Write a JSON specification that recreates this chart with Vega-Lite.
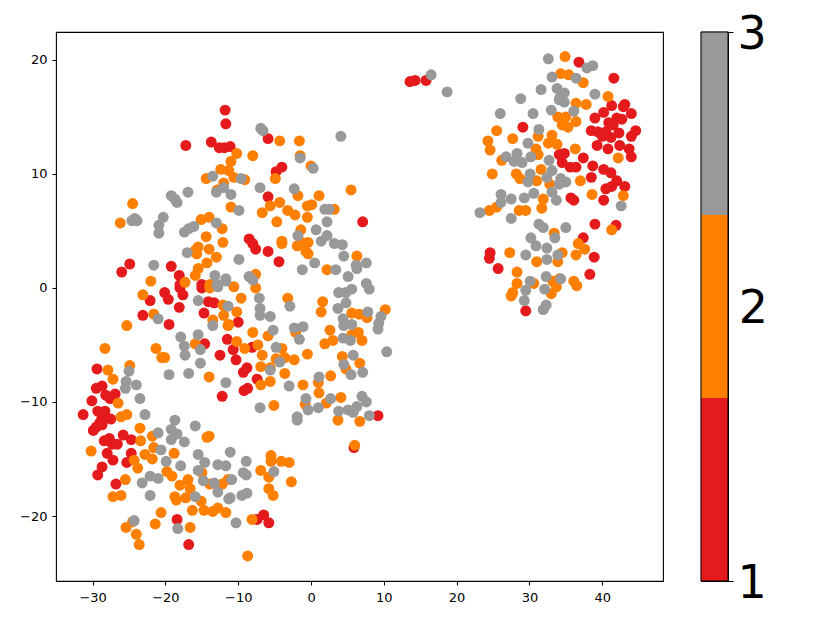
{"$schema":"https://vega.github.io/schema/vega-lite/v6.json","padding":{"left":0,"top":10,"right":0,"bottom":0},"background":"white","config":{"view":{"stroke":"#000","strokeWidth":1.1},"font":"DejaVu Sans","axis":{"grid":false,"domain":false,"tickColor":"#000","labelColor":"#000","title":null}},"datasets":{"pts":[
{"x":-20.1,"y":-0.4,"c":1},{"x":-19.6,"y":-1.0,"c":1},{"x":-22.1,"y":-1.1,"c":1},{"x":-23.1,"y":-2.4,"c":1},{"x":-19.5,"y":-3.2,"c":1},{"x":-18.0,"y":0.0,"c":1},{"x":-17.6,"y":-0.6,"c":1},{"x":-18.1,"y":-1.7,"c":1},{"x":-15.0,"y":0.0,"c":1},{"x":-14.1,"y":-1.2,"c":1},{"x":-13.3,"y":-1.3,"c":1},{"x":-14.7,"y":-2.2,"c":1},{"x":-14.6,"y":-4.9,"c":1},{"x":-11.5,"y":-4.5,"c":1},{"x":-12.5,"y":-5.9,"c":1},{"x":-12.2,"y":-9.5,"c":1},{"x":-29.4,"y":-7.1,"c":1},{"x":-28.7,"y":-8.6,"c":1},{"x":-29.5,"y":-8.8,"c":1},{"x":-26.9,"y":-9.3,"c":1},{"x":-28.2,"y":-9.4,"c":1},{"x":-27.6,"y":-9.7,"c":1},{"x":-30.1,"y":-9.9,"c":1},{"x":-31.3,"y":-11.1,"c":1},{"x":-29.3,"y":-10.8,"c":1},{"x":-28.3,"y":-10.8,"c":1},{"x":-27.5,"y":-11.5,"c":1},{"x":-28.7,"y":-11.4,"c":1},{"x":-29.0,"y":-11.8,"c":1},{"x":-29.9,"y":-12.5,"c":1},{"x":-29.5,"y":-12.2,"c":1},{"x":-28.7,"y":-12.0,"c":1},{"x":-25.8,"y":-12.9,"c":1},{"x":-24.7,"y":-13.3,"c":1},{"x":-28.4,"y":-13.4,"c":1},{"x":-27.7,"y":-13.2,"c":1},{"x":-27.3,"y":-13.7,"c":1},{"x":-26.6,"y":-13.7,"c":1},{"x":-28.0,"y":-14.5,"c":1},{"x":-27.2,"y":-15.1,"c":1},{"x":-24.7,"y":-14.5,"c":1},{"x":-25.3,"y":-15.3,"c":1},{"x":-28.7,"y":-15.7,"c":1},{"x":-29.3,"y":-16.4,"c":1},{"x":-26.8,"y":-17.2,"c":1},{"x":-18.4,"y":-20.3,"c":1},{"x":-16.8,"y":-22.5,"c":1},{"x":-6.5,"y":-19.9,"c":1},{"x":-7.4,"y":-20.3,"c":1},{"x":-5.8,"y":-20.6,"c":1},{"x":5.9,"y":-14.0,"c":1},{"x":-11.8,"y":15.6,"c":1},{"x":-11.7,"y":14.4,"c":1},{"x":-13.7,"y":12.8,"c":1},{"x":-17.2,"y":12.5,"c":1},{"x":-12.6,"y":12.3,"c":1},{"x":-11.9,"y":12.3,"c":1},{"x":-11.1,"y":12.4,"c":1},{"x":-5.9,"y":13.1,"c":1},{"x":-8.5,"y":4.3,"c":1},{"x":-8.0,"y":3.9,"c":1},{"x":-7.6,"y":3.4,"c":1},{"x":-5.9,"y":3.2,"c":1},{"x":-24.9,"y":2.1,"c":1},{"x":-26.0,"y":1.4,"c":1},{"x":-19.2,"y":1.9,"c":1},{"x":-18.1,"y":1.1,"c":1},{"x":-5.9,"y":8.0,"c":1},{"x":-18.0,"y":0.3,"c":1},{"x":-15.0,"y":0.3,"c":1},{"x":-10.0,"y":-3.0,"c":1},{"x":-8.1,"y":-5.2,"c":1},{"x":-10.7,"y":-5.4,"c":1},{"x":-10.3,"y":-6.3,"c":1},{"x":-8.8,"y":-7.0,"c":1},{"x":-9.3,"y":-7.4,"c":1},{"x":-7.4,"y":-8.0,"c":1},{"x":-8.7,"y":-8.8,"c":1},{"x":-9.2,"y":-9.0,"c":1},{"x":9.2,"y":-11.2,"c":1},{"x":-4.0,"y":10.6,"c":1},{"x":-4.8,"y":10.2,"c":1},{"x":7.1,"y":5.8,"c":1},{"x":-4.4,"y":2.3,"c":1},{"x":13.6,"y":18.1,"c":1},{"x":14.3,"y":18.2,"c":1},{"x":15.8,"y":18.2,"c":1},{"x":36.8,"y":19.8,"c":1},{"x":41.6,"y":18.4,"c":1},{"x":29.1,"y":14.1,"c":1},{"x":41.3,"y":16.0,"c":1},{"x":43.1,"y":16.1,"c":1},{"x":42.9,"y":15.9,"c":1},{"x":40.2,"y":15.4,"c":1},{"x":44.0,"y":15.3,"c":1},{"x":39.0,"y":14.9,"c":1},{"x":42.0,"y":14.9,"c":1},{"x":42.7,"y":14.8,"c":1},{"x":40.9,"y":14.5,"c":1},{"x":41.5,"y":14.3,"c":1},{"x":44.6,"y":13.8,"c":1},{"x":44.0,"y":13.3,"c":1},{"x":38.5,"y":13.8,"c":1},{"x":39.4,"y":13.7,"c":1},{"x":40.5,"y":13.7,"c":1},{"x":42.3,"y":13.6,"c":1},{"x":41.2,"y":13.2,"c":1},{"x":40.0,"y":13.3,"c":1},{"x":39.3,"y":12.5,"c":1},{"x":42.4,"y":12.5,"c":1},{"x":40.8,"y":12.2,"c":1},{"x":43.7,"y":12.2,"c":1},{"x":44.0,"y":11.5,"c":1},{"x":34.8,"y":11.8,"c":1},{"x":34.1,"y":11.7,"c":1},{"x":34.5,"y":11.0,"c":1},{"x":37.4,"y":11.4,"c":1},{"x":35.6,"y":10.6,"c":1},{"x":36.4,"y":10.6,"c":1},{"x":38.7,"y":10.7,"c":1},{"x":40.2,"y":10.4,"c":1},{"x":41.2,"y":10.1,"c":1},{"x":38.5,"y":9.7,"c":1},{"x":42.0,"y":9.4,"c":1},{"x":35.7,"y":7.9,"c":1},{"x":36.1,"y":7.7,"c":1},{"x":40.2,"y":7.7,"c":1},{"x":40.5,"y":8.7,"c":1},{"x":41.3,"y":8.9,"c":1},{"x":43.1,"y":8.9,"c":1},{"x":39.0,"y":5.6,"c":1},{"x":41.9,"y":5.5,"c":1},{"x":37.4,"y":4.4,"c":1},{"x":24.6,"y":3.1,"c":1},{"x":24.5,"y":2.6,"c":1},{"x":38.9,"y":2.7,"c":1},{"x":25.7,"y":1.7,"c":1},{"x":38.3,"y":1.2,"c":1},{"x":29.5,"y":-2.0,"c":1},
{"x":-22.0,"y":0.6,"c":2},{"x":-17.3,"y":0.5,"c":2},{"x":-23.1,"y":-0.6,"c":2},{"x":-21.6,"y":-2.3,"c":2},{"x":-25.3,"y":-3.3,"c":2},{"x":-13.9,"y":0.0,"c":2},{"x":-12.1,"y":-1.5,"c":2},{"x":-12.0,"y":-2.4,"c":2},{"x":-13.5,"y":-2.8,"c":2},{"x":-11.4,"y":-3.3,"c":2},{"x":-15.9,"y":-4.9,"c":2},{"x":-21.3,"y":-5.3,"c":2},{"x":-20.5,"y":-6.1,"c":2},{"x":-20.1,"y":-6.1,"c":2},{"x":-28.3,"y":-5.3,"c":2},{"x":-27.9,"y":-7.2,"c":2},{"x":-24.9,"y":-6.8,"c":2},{"x":-27.2,"y":-8.0,"c":2},{"x":-14.0,"y":-7.8,"c":2},{"x":-26.5,"y":-10.1,"c":2},{"x":-26.1,"y":-11.3,"c":2},{"x":-25.3,"y":-11.1,"c":2},{"x":-23.5,"y":-12.3,"c":2},{"x":-21.8,"y":-13.0,"c":2},{"x":-23.4,"y":-13.4,"c":2},{"x":-30.2,"y":-14.3,"c":2},{"x":-21.6,"y":-14.0,"c":2},{"x":-22.8,"y":-14.6,"c":2},{"x":-21.8,"y":-15.0,"c":2},{"x":-18.8,"y":-14.5,"c":2},{"x":-24.3,"y":-15.1,"c":2},{"x":-23.8,"y":-15.8,"c":2},{"x":-25.5,"y":-16.8,"c":2},{"x":-26.1,"y":-18.2,"c":2},{"x":-27.2,"y":-18.3,"c":2},{"x":-14.3,"y":-13.1,"c":2},{"x":-14.0,"y":-13.0,"c":2},{"x":-19.8,"y":-16.1,"c":2},{"x":-19.1,"y":-16.5,"c":2},{"x":-18.0,"y":-17.3,"c":2},{"x":-16.9,"y":-16.8,"c":2},{"x":-16.6,"y":-17.6,"c":2},{"x":-15.0,"y":-16.2,"c":2},{"x":-13.9,"y":-17.2,"c":2},{"x":-12.2,"y":-17.2,"c":2},{"x":-11.4,"y":-16.8,"c":2},{"x":-18.7,"y":-18.3,"c":2},{"x":-18.5,"y":-18.6,"c":2},{"x":-17.2,"y":-18.4,"c":2},{"x":-15.1,"y":-18.7,"c":2},{"x":-16.3,"y":-19.5,"c":2},{"x":-14.7,"y":-19.5,"c":2},{"x":-13.5,"y":-19.6,"c":2},{"x":-12.8,"y":-19.3,"c":2},{"x":-11.7,"y":-19.7,"c":2},{"x":-20.6,"y":-19.7,"c":2},{"x":-24.5,"y":-20.5,"c":2},{"x":-25.4,"y":-21.0,"c":2},{"x":-21.4,"y":-20.7,"c":2},{"x":-16.6,"y":-21.0,"c":2},{"x":-24.0,"y":-21.6,"c":2},{"x":-23.6,"y":-22.5,"c":2},{"x":-5.5,"y":-14.7,"c":2},{"x":-5.5,"y":-15.2,"c":2},{"x":-4.1,"y":-15.2,"c":2},{"x":-3.0,"y":-15.3,"c":2},{"x":-6.9,"y":-16.0,"c":2},{"x":-5.8,"y":-16.6,"c":2},{"x":-2.7,"y":-17.0,"c":2},{"x":-5.8,"y":-17.6,"c":2},{"x":-5.2,"y":-18.2,"c":2},{"x":-8.1,"y":-20.3,"c":2},{"x":-8.7,"y":-23.5,"c":2},{"x":6.0,"y":-13.8,"c":2},{"x":3.7,"y":-11.6,"c":2},{"x":6.7,"y":-11.7,"c":2},{"x":-24.5,"y":7.4,"c":2},{"x":-26.2,"y":5.7,"c":2},{"x":-11.0,"y":7.1,"c":2},{"x":-6.7,"y":6.6,"c":2},{"x":-15.1,"y":6.0,"c":2},{"x":-14.0,"y":6.2,"c":2},{"x":-12.2,"y":5.2,"c":2},{"x":-14.4,"y":4.5,"c":2},{"x":-12.1,"y":4.0,"c":2},{"x":-15.5,"y":3.6,"c":2},{"x":-15.9,"y":3.3,"c":2},{"x":-15.7,"y":3.0,"c":2},{"x":-14.0,"y":3.4,"c":2},{"x":-13.0,"y":2.7,"c":2},{"x":-14.3,"y":2.2,"c":2},{"x":-15.5,"y":1.7,"c":2},{"x":-15.9,"y":1.1,"c":2},{"x":-7.6,"y":1.2,"c":2},{"x":-13.9,"y":0.3,"c":2},{"x":-10.2,"y":11.8,"c":2},{"x":-8.0,"y":11.6,"c":2},{"x":-11.0,"y":11.1,"c":2},{"x":-12.4,"y":10.4,"c":2},{"x":-11.3,"y":10.3,"c":2},{"x":-14.4,"y":9.6,"c":2},{"x":-10.6,"y":9.7,"c":2},{"x":-9.1,"y":9.5,"c":2},{"x":-12.0,"y":9.2,"c":2},{"x":-12.9,"y":8.6,"c":2},{"x":-10.6,"y":0.1,"c":2},{"x":-7.6,"y":0.0,"c":2},{"x":-9.6,"y":-0.9,"c":2},{"x":-3.2,"y":-0.9,"c":2},{"x":1.6,"y":-1.2,"c":2},{"x":1.4,"y":-2.1,"c":2},{"x":-10.2,"y":-2.1,"c":2},{"x":-11.3,"y":-3.2,"c":2},{"x":-8.0,"y":-3.9,"c":2},{"x":-5.9,"y":-4.2,"c":2},{"x":-2.1,"y":-3.9,"c":2},{"x":-10.2,"y":-4.7,"c":2},{"x":-7.3,"y":-5.0,"c":2},{"x":-9.1,"y":-5.3,"c":2},{"x":-6.7,"y":-5.9,"c":2},{"x":-4.0,"y":-5.3,"c":2},{"x":-4.8,"y":-6.2,"c":2},{"x":-3.6,"y":-6.1,"c":2},{"x":-2.3,"y":-6.3,"c":2},{"x":-0.5,"y":-5.8,"c":2},{"x":-6.9,"y":-6.9,"c":2},{"x":-5.6,"y":-7.0,"c":2},{"x":-3.6,"y":-7.5,"c":2},{"x":-5.6,"y":-8.2,"c":2},{"x":-6.9,"y":-8.5,"c":2},{"x":-1.1,"y":-8.5,"c":2},{"x":1.0,"y":-8.3,"c":2},{"x":1.1,"y":-9.2,"c":2},{"x":2.7,"y":-7.7,"c":2},{"x":4.1,"y":-9.6,"c":2},{"x":2.1,"y":-10.1,"c":2},{"x":-0.8,"y":-10.2,"c":2},{"x":-5.1,"y":-10.3,"c":2},{"x":5.6,"y":-2.2,"c":2},{"x":6.6,"y":-2.3,"c":2},{"x":7.7,"y":-2.6,"c":2},{"x":10.2,"y":-1.9,"c":2},{"x":2.6,"y":-3.7,"c":2},{"x":1.9,"y":-4.9,"c":2},{"x":3.0,"y":-4.6,"c":2},{"x":5.6,"y":-4.1,"c":2},{"x":6.5,"y":-3.9,"c":2},{"x":7.0,"y":-4.6,"c":2},{"x":4.3,"y":-6.0,"c":2},{"x":6.7,"y":-6.6,"c":2},{"x":4.8,"y":-7.1,"c":2},{"x":-4.3,"y":12.9,"c":2},{"x":-1.6,"y":12.9,"c":2},{"x":-1.5,"y":11.6,"c":2},{"x":0.0,"y":10.7,"c":2},{"x":-4.9,"y":9.6,"c":2},{"x":5.5,"y":8.6,"c":2},{"x":-1.8,"y":8.1,"c":2},{"x":1.1,"y":8.1,"c":2},{"x":-4.3,"y":7.5,"c":2},{"x":-5.6,"y":7.2,"c":2},{"x":-3.2,"y":6.8,"c":2},{"x":-2.2,"y":6.4,"c":2},{"x":-0.5,"y":7.2,"c":2},{"x":0.1,"y":7.3,"c":2},{"x":-0.5,"y":6.2,"c":2},{"x":3.2,"y":6.9,"c":2},{"x":-4.7,"y":5.8,"c":2},{"x":-1.4,"y":5.1,"c":2},{"x":-4.0,"y":4.1,"c":2},{"x":-4.0,"y":3.9,"c":2},{"x":-1.9,"y":3.7,"c":2},{"x":-1.2,"y":4.0,"c":2},{"x":-0.4,"y":4.0,"c":2},{"x":-0.7,"y":3.2,"c":2},{"x":-0.4,"y":3.0,"c":2},{"x":6.3,"y":2.8,"c":2},{"x":2.2,"y":1.6,"c":2},{"x":34.9,"y":20.3,"c":2},{"x":34.3,"y":18.8,"c":2},{"x":35.4,"y":18.7,"c":2},{"x":37.4,"y":18.0,"c":2},{"x":40.8,"y":16.8,"c":2},{"x":36.4,"y":16.2,"c":2},{"x":37.8,"y":16.1,"c":2},{"x":33.9,"y":15.0,"c":2},{"x":35.0,"y":15.0,"c":2},{"x":36.4,"y":14.6,"c":2},{"x":34.5,"y":14.3,"c":2},{"x":35.3,"y":14.1,"c":2},{"x":25.5,"y":13.8,"c":2},{"x":24.3,"y":12.9,"c":2},{"x":24.6,"y":12.1,"c":2},{"x":27.7,"y":13.1,"c":2},{"x":31.2,"y":13.3,"c":2},{"x":33.1,"y":13.4,"c":2},{"x":32.6,"y":12.7,"c":2},{"x":33.8,"y":12.6,"c":2},{"x":30.9,"y":12.2,"c":2},{"x":31.2,"y":11.7,"c":2},{"x":36.3,"y":12.2,"c":2},{"x":26.2,"y":11.2,"c":2},{"x":42.2,"y":11.4,"c":2},{"x":31.6,"y":10.4,"c":2},{"x":24.9,"y":10.0,"c":2},{"x":28.2,"y":10.0,"c":2},{"x":28.7,"y":9.6,"c":2},{"x":37.0,"y":9.4,"c":2},{"x":31.0,"y":9.4,"c":2},{"x":32.8,"y":9.1,"c":2},{"x":38.6,"y":8.2,"c":2},{"x":42.9,"y":8.1,"c":2},{"x":31.9,"y":7.8,"c":2},{"x":31.7,"y":7.0,"c":2},{"x":28.6,"y":6.8,"c":2},{"x":29.5,"y":6.8,"c":2},{"x":24.5,"y":6.8,"c":2},{"x":25.5,"y":7.1,"c":2},{"x":33.4,"y":4.8,"c":2},{"x":41.3,"y":5.1,"c":2},{"x":36.7,"y":3.9,"c":2},{"x":37.6,"y":3.4,"c":2},{"x":36.4,"y":2.9,"c":2},{"x":34.5,"y":3.1,"c":2},{"x":27.3,"y":3.1,"c":2},{"x":31.0,"y":2.3,"c":2},{"x":33.9,"y":2.3,"c":2},{"x":28.3,"y":1.4,"c":2},{"x":28.3,"y":0.4,"c":2},{"x":30.6,"y":0.4,"c":2},{"x":27.7,"y":-0.4,"c":2},{"x":27.5,"y":-0.7,"c":2},{"x":33.2,"y":0.6,"c":2},{"x":34.1,"y":0.8,"c":2},{"x":33.7,"y":0.1,"c":2},{"x":33.0,"y":-0.5,"c":2},{"x":36.1,"y":0.6,"c":2},{"x":36.5,"y":0.2,"c":2},
{"x":-21.0,"y":-2.7,"c":3},{"x":-15.5,"y":-1.1,"c":3},{"x":-12.8,"y":0.1,"c":3},{"x":-11.7,"y":0.6,"c":3},{"x":-13.5,"y":-3.3,"c":3},{"x":-17.9,"y":-4.3,"c":3},{"x":-15.5,"y":-4.1,"c":3},{"x":-17.4,"y":-5.1,"c":3},{"x":-15.2,"y":-5.4,"c":3},{"x":-17.3,"y":-5.9,"c":3},{"x":-15.2,"y":-6.6,"c":3},{"x":-16.8,"y":-7.5,"c":3},{"x":-19.5,"y":-7.6,"c":3},{"x":-25.0,"y":-7.3,"c":3},{"x":-25.4,"y":-8.2,"c":3},{"x":-24.0,"y":-8.5,"c":3},{"x":-25.5,"y":-8.8,"c":3},{"x":-23.5,"y":-9.7,"c":3},{"x":-11.7,"y":-8.3,"c":3},{"x":-22.8,"y":-11.1,"c":3},{"x":-18.7,"y":-11.6,"c":3},{"x":-15.9,"y":-12.1,"c":3},{"x":-19.2,"y":-12.4,"c":3},{"x":-21.0,"y":-12.7,"c":3},{"x":-18.4,"y":-12.8,"c":3},{"x":-19.2,"y":-13.3,"c":3},{"x":-17.4,"y":-13.5,"c":3},{"x":-20.6,"y":-14.2,"c":3},{"x":-19.9,"y":-15.2,"c":3},{"x":-17.9,"y":-15.6,"c":3},{"x":-15.5,"y":-14.6,"c":3},{"x":-14.6,"y":-15.3,"c":3},{"x":-12.8,"y":-15.5,"c":3},{"x":-11.7,"y":-15.6,"c":3},{"x":-11.1,"y":-14.4,"c":3},{"x":-15.5,"y":-16.0,"c":3},{"x":-22.1,"y":-16.5,"c":3},{"x":-21.0,"y":-16.7,"c":3},{"x":-23.2,"y":-17.1,"c":3},{"x":-14.8,"y":-16.9,"c":3},{"x":-13.3,"y":-17.1,"c":3},{"x":-12.8,"y":-17.9,"c":3},{"x":-11.3,"y":-18.5,"c":3},{"x":-22.1,"y":-18.2,"c":3},{"x":-15.9,"y":-18.3,"c":3},{"x":-24.3,"y":-20.4,"c":3},{"x":-18.3,"y":-21.1,"c":3},{"x":-8.9,"y":-15.2,"c":3},{"x":-9.3,"y":-16.2,"c":3},{"x":-8.9,"y":-16.4,"c":3},{"x":-5.1,"y":-16.1,"c":3},{"x":-10.9,"y":-16.8,"c":3},{"x":-8.8,"y":-18.0,"c":3},{"x":-9.5,"y":-18.2,"c":3},{"x":-11.1,"y":-18.4,"c":3},{"x":-10.3,"y":-20.6,"c":3},{"x":-1.9,"y":-11.6,"c":3},{"x":-16.9,"y":8.4,"c":3},{"x":-19.2,"y":8.1,"c":3},{"x":-18.7,"y":7.8,"c":3},{"x":-18.4,"y":7.5,"c":3},{"x":-13.0,"y":8.4,"c":3},{"x":-12.0,"y":8.8,"c":3},{"x":-11.0,"y":8.2,"c":3},{"x":-7.0,"y":8.8,"c":3},{"x":-9.9,"y":6.8,"c":3},{"x":-20.3,"y":6.2,"c":3},{"x":-24.2,"y":6.1,"c":3},{"x":-24.6,"y":5.9,"c":3},{"x":-23.9,"y":5.9,"c":3},{"x":-20.9,"y":5.5,"c":3},{"x":-20.9,"y":4.8,"c":3},{"x":-16.1,"y":5.4,"c":3},{"x":-16.8,"y":5.2,"c":3},{"x":-17.4,"y":4.9,"c":3},{"x":-13.0,"y":5.7,"c":3},{"x":-17.0,"y":3.1,"c":3},{"x":-9.9,"y":2.5,"c":3},{"x":-21.6,"y":2.0,"c":3},{"x":-13.2,"y":1.1,"c":3},{"x":-11.7,"y":0.8,"c":3},{"x":-8.5,"y":1.0,"c":3},{"x":-8.0,"y":0.7,"c":3},{"x":-12.9,"y":0.3,"c":3},{"x":-13.5,"y":9.8,"c":3},{"x":-9.6,"y":9.6,"c":3},{"x":-6.9,"y":14.0,"c":3},{"x":-6.6,"y":13.8,"c":3},{"x":4.1,"y":13.3,"c":3},{"x":-1.5,"y":11.4,"c":3},{"x":0.3,"y":10.5,"c":3},{"x":-2.3,"y":8.7,"c":3},{"x":1.9,"y":6.9,"c":3},{"x":2.5,"y":6.9,"c":3},{"x":2.2,"y":5.8,"c":3},{"x":0.7,"y":5.1,"c":3},{"x":2.2,"y":4.6,"c":3},{"x":1.4,"y":4.1,"c":3},{"x":-1.8,"y":4.6,"c":3},{"x":3.2,"y":3.9,"c":3},{"x":4.3,"y":3.8,"c":3},{"x":4.5,"y":2.8,"c":3},{"x":0.5,"y":2.2,"c":3},{"x":-1.2,"y":1.6,"c":3},{"x":3.4,"y":1.6,"c":3},{"x":6.2,"y":2.0,"c":3},{"x":6.3,"y":1.7,"c":3},{"x":7.6,"y":2.2,"c":3},{"x":5.1,"y":1.0,"c":3},{"x":7.6,"y":0.4,"c":3},{"x":8.0,"y":-0.1,"c":3},{"x":5.6,"y":-0.1,"c":3},{"x":4.8,"y":-0.4,"c":3},{"x":3.8,"y":-0.4,"c":3},{"x":-7.1,"y":-0.9,"c":3},{"x":-2.9,"y":-1.6,"c":3},{"x":4.8,"y":-1.3,"c":3},{"x":3.7,"y":-1.8,"c":3},{"x":-7.0,"y":-1.8,"c":3},{"x":-7.0,"y":-2.4,"c":3},{"x":-5.6,"y":-2.5,"c":3},{"x":-11.4,"y":-1.6,"c":3},{"x":7.8,"y":-2.1,"c":3},{"x":9.6,"y":-2.5,"c":3},{"x":9.3,"y":-3.1,"c":3},{"x":9.2,"y":-3.6,"c":3},{"x":4.4,"y":-2.7,"c":3},{"x":4.5,"y":-3.3,"c":3},{"x":5.6,"y":-3.2,"c":3},{"x":-5.2,"y":-3.7,"c":3},{"x":-2.3,"y":-3.5,"c":3},{"x":-1.1,"y":-3.4,"c":3},{"x":-1.6,"y":-4.5,"c":3},{"x":4.4,"y":-4.4,"c":3},{"x":5.4,"y":-4.6,"c":3},{"x":-4.8,"y":-5.2,"c":3},{"x":-4.3,"y":-6.5,"c":3},{"x":-5.6,"y":-7.2,"c":3},{"x":5.8,"y":-5.9,"c":3},{"x":4.5,"y":-6.7,"c":3},{"x":5.5,"y":-7.6,"c":3},{"x":7.1,"y":-7.4,"c":3},{"x":10.4,"y":-5.6,"c":3},{"x":1.1,"y":-7.8,"c":3},{"x":-3.0,"y":-8.6,"c":3},{"x":7.0,"y":-9.5,"c":3},{"x":7.6,"y":-10.0,"c":3},{"x":-0.7,"y":-9.7,"c":3},{"x":2.7,"y":-9.7,"c":3},{"x":-0.4,"y":-10.7,"c":3},{"x":1.0,"y":-10.5,"c":3},{"x":3.8,"y":-10.8,"c":3},{"x":5.1,"y":-10.7,"c":3},{"x":5.8,"y":-10.9,"c":3},{"x":6.3,"y":-10.4,"c":3},{"x":-7.0,"y":-10.5,"c":3},{"x":-1.9,"y":-11.3,"c":3},{"x":8.0,"y":-11.2,"c":3},{"x":16.5,"y":18.7,"c":3},{"x":18.7,"y":17.2,"c":3},{"x":32.6,"y":20.1,"c":3},{"x":38.7,"y":19.5,"c":3},{"x":37.9,"y":19.3,"c":3},{"x":33.1,"y":18.5,"c":3},{"x":36.4,"y":18.4,"c":3},{"x":31.6,"y":17.4,"c":3},{"x":33.8,"y":17.5,"c":3},{"x":34.8,"y":17.1,"c":3},{"x":39.0,"y":17.0,"c":3},{"x":28.8,"y":16.6,"c":3},{"x":34.2,"y":16.7,"c":3},{"x":34.1,"y":16.5,"c":3},{"x":34.8,"y":16.3,"c":3},{"x":26.0,"y":15.3,"c":3},{"x":30.5,"y":15.3,"c":3},{"x":33.0,"y":15.6,"c":3},{"x":36.1,"y":15.5,"c":3},{"x":31.3,"y":13.9,"c":3},{"x":29.8,"y":12.7,"c":3},{"x":26.8,"y":11.5,"c":3},{"x":28.3,"y":11.8,"c":3},{"x":30.2,"y":11.5,"c":3},{"x":27.9,"y":11.1,"c":3},{"x":29.0,"y":11.0,"c":3},{"x":32.7,"y":11.2,"c":3},{"x":33.1,"y":10.3,"c":3},{"x":30.1,"y":10.0,"c":3},{"x":34.3,"y":9.6,"c":3},{"x":32.4,"y":9.7,"c":3},{"x":35.0,"y":9.3,"c":3},{"x":34.1,"y":9.1,"c":3},{"x":29.8,"y":9.3,"c":3},{"x":26.1,"y":8.2,"c":3},{"x":27.5,"y":7.8,"c":3},{"x":26.1,"y":7.5,"c":3},{"x":23.2,"y":6.6,"c":3},{"x":29.3,"y":7.9,"c":3},{"x":30.6,"y":8.3,"c":3},{"x":33.1,"y":8.4,"c":3},{"x":33.7,"y":7.7,"c":3},{"x":27.5,"y":6.1,"c":3},{"x":42.6,"y":7.2,"c":3},{"x":31.3,"y":5.6,"c":3},{"x":31.9,"y":5.3,"c":3},{"x":35.0,"y":5.3,"c":3},{"x":33.5,"y":4.4,"c":3},{"x":30.2,"y":4.4,"c":3},{"x":30.9,"y":3.7,"c":3},{"x":32.4,"y":3.5,"c":3},{"x":29.5,"y":2.9,"c":3},{"x":33.9,"y":2.9,"c":3},{"x":32.4,"y":2.5,"c":3},{"x":30.1,"y":0.6,"c":3},{"x":32.3,"y":1.0,"c":3},{"x":34.3,"y":0.8,"c":3},{"x":29.5,"y":-0.2,"c":3},{"x":32.1,"y":-0.1,"c":3},{"x":29.3,"y":-1.1,"c":3},{"x":32.3,"y":-1.5,"c":3},{"x":31.9,"y":-1.9,"c":3}
],"bar":[{"lo":1,"hi":1.6667,"c":1},{"lo":1.6667,"hi":2.3333,"c":2},{"lo":2.3333,"hi":3,"c":3}],"frame":[{"lo":1,"hi":3}],"mid":[{"lo":2,"t":"2","pos":1.4}]},
"hconcat":[
{"width":607,"height":549,"data":{"name":"pts"},"mark":{"type":"circle","size":120,"opacity":1},"encoding":{
"x":{"field":"x","type":"quantitative","scale":{"domain":[-35.03,48.35],"nice":false,"zero":false},"axis":{"values":[-30,-20,-10,0,10,20,30,40],"labelFontSize":13,"tickSize":4,"labelPadding":6,"labelFlush":false}},
"y":{"field":"y","type":"quantitative","scale":{"domain":[-25.7,22.45],"nice":false,"zero":false},"axis":{"values":[-20,-10,0,10,20],"labelFontSize":13,"tickSize":4,"labelPadding":5,"minExtent":55,"maxExtent":55}},
"color":{"field":"c","type":"nominal","scale":{"domain":[1,2,3],"range":["#e41a1c","#ff7f00","#999999"]},"legend":null}}},
{"width":27,"height":549,"layer":[
{"data":{"name":"bar"},"mark":{"type":"rect"},"encoding":{
"y":{"field":"lo","type":"quantitative","scale":{"domain":[1,3],"nice":false,"zero":false},"axis":{"orient":"right","values":[1,2,3],"tickCount":10,"format":"d","labelFontSize":46,"tickSize":5,"labelPadding":4,"labelOffset":2,"labelFlush":false,"labelOverlap":false,"labelBound":false}},
"y2":{"field":"hi"},
"color":{"field":"c","type":"nominal","scale":{"domain":[1,2,3],"range":["#e41a1c","#ff7f00","#999999"]},"legend":null}}},
{"data":{"name":"frame"},"mark":{"type":"rect","fillOpacity":0,"stroke":"#000","strokeWidth":1},"encoding":{
"y":{"field":"lo","type":"quantitative"},"y2":{"field":"hi"}}},
{"data":{"name":"mid"},"mark":{"type":"text","fontSize":46,"align":"left","baseline":"middle","dy":2,"color":"#000"},"encoding":{
"x":{"field":"pos","type":"quantitative","scale":{"domain":[0,1],"nice":false,"zero":false},"axis":null},
"y":{"field":"lo","type":"quantitative"},"text":{"field":"t","type":"nominal"}}}
]}
],"spacing":35,"resolve":{"scale":{"color":"independent","y":"independent"}}}
